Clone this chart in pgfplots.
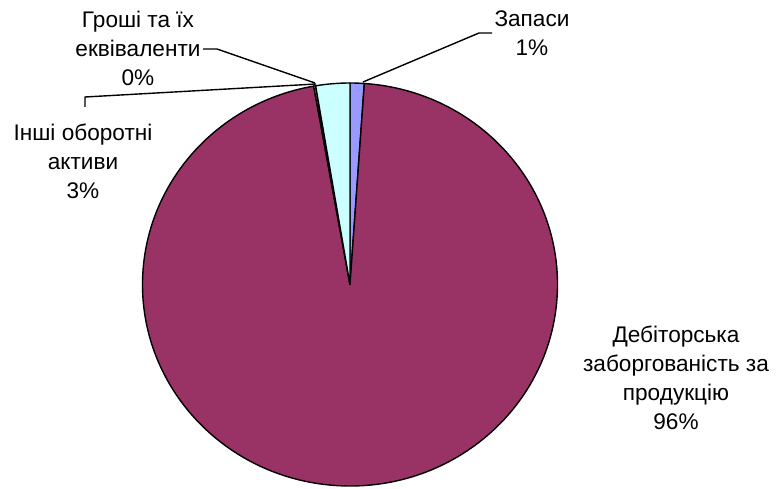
\documentclass[border=0pt]{standalone}
\usepackage{pgfplots}
\pgfplotsset{compat=1.18}
\usepackage{fontspec}
\setmainfont{Liberation Sans}

\definecolor{zapasy}{HTML}{9999FF}
\definecolor{debit}{HTML}{993366}
\definecolor{groshi}{HTML}{FFFFCC}
\definecolor{inshi}{HTML}{CCFFFF}

% one pie slice, clockwise from the top; #1,#2 = cumulative shares in %
\newcommand{\slice}[3]{%
  \pgfmathsetmacro\aA{90-3.6*#1}%
  \pgfmathsetmacro\aB{90-3.6*#2}%
  \edef\tmp{\noexpand\filldraw[fill=#3, draw=black, line width=0.7pt, line join=round]
    (axis cs:350,203.5) -- (axis cs:{350+207.5*cos(\aA)},{203.5+201.5*sin(\aA)})
    arc[start angle=\aA, end angle=\aB, x radius=103.75pt, y radius=100.75pt] -- cycle;}%
  \tmp}

\begin{document}
\begin{tikzpicture}
\begin{axis}[
  x=0.5pt, y=0.5pt,
  xmin=0, xmax=777, ymin=0, ymax=488,
  hide axis, clip=false,
]
\coordinate (bl) at (axis cs:0,0);
\coordinate (tr) at (axis cs:777,488);

% shares: Запаси 1.1, Дебіторська 96.1, Гроші 0.15, Інші 2.65
\slice{0}{1.1}{zapasy}
\slice{1.1}{97.2}{debit}
\slice{97.2}{97.35}{groshi}
\slice{97.35}{100}{inshi}

% leader lines
\draw[black, line width=0.7pt] (axis cs:363,406) -- (axis cs:479,455) -- (axis cs:492,455);
\draw[black, line width=0.7pt] (axis cs:203,439) -- (axis cs:217,439) -- (axis cs:315,405);
\draw[black, line width=0.7pt] (axis cs:85,381) -- (axis cs:85,391) -- (axis cs:316,404);

% labels
\tikzset{lbl/.style={align=center, inner sep=0pt, font=\fontsize{11.3}{14.5}\selectfont}}
\node[lbl] at (axis cs:532,455) {Запаси\\1\%};
\node[lbl] at (axis cs:138,440) {Гроші та їх\\еквіваленти\\0\%};
\node[lbl] at (axis cs:83,327) {Інші оборотні\\активи\\3\%};
\node[lbl] at (axis cs:676,110.5) {Дебіторська\\заборгованість за\\продукцію\\96\%};
\end{axis}
\pgfresetboundingbox
\path (bl) rectangle (tr);
\end{tikzpicture}
\end{document}
